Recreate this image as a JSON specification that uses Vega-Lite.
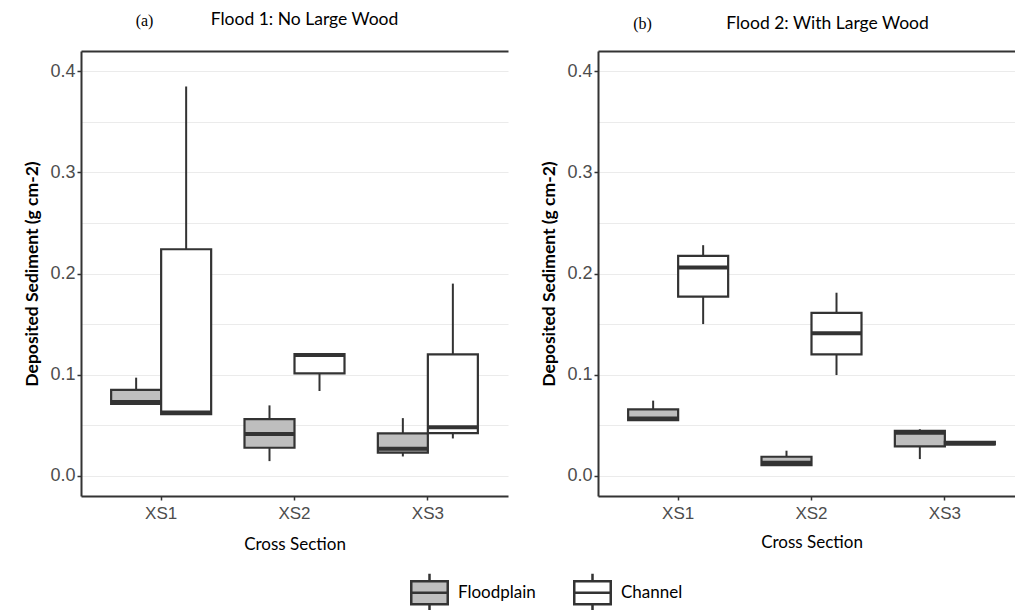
{
  "$schema": "https://vega.github.io/schema/vega-lite/v6.json",
  "background": "white",
  "padding": {"left": 23, "top": 10, "right": 0, "bottom": 5},
  "config": {
    "view": {"stroke": null}
  },
  "datasets": {
    "boxes": [
      {"flood": "Flood 1", "xs": "XS1", "loc": "Floodplain", "min": 0.071, "q1": 0.071, "median": 0.073, "q3": 0.085, "max": 0.097},
      {"flood": "Flood 1", "xs": "XS1", "loc": "Channel", "min": 0.061, "q1": 0.061, "median": 0.0625, "q3": 0.224, "max": 0.385},
      {"flood": "Flood 1", "xs": "XS2", "loc": "Floodplain", "min": 0.0145, "q1": 0.0277, "median": 0.0412, "q3": 0.056, "max": 0.0696},
      {"flood": "Flood 1", "xs": "XS2", "loc": "Channel", "min": 0.0838, "q1": 0.1013, "median": 0.1194, "q3": 0.1204, "max": 0.1204},
      {"flood": "Flood 1", "xs": "XS3", "loc": "Floodplain", "min": 0.0191, "q1": 0.0228, "median": 0.0268, "q3": 0.0419, "max": 0.057},
      {"flood": "Flood 1", "xs": "XS3", "loc": "Channel", "min": 0.0369, "q1": 0.0422, "median": 0.0481, "q3": 0.120, "max": 0.190},
      {"flood": "Flood 2", "xs": "XS1", "loc": "Floodplain", "min": 0.055, "q1": 0.055, "median": 0.0567, "q3": 0.0656, "max": 0.0743},
      {"flood": "Flood 2", "xs": "XS1", "loc": "Channel", "min": 0.150, "q1": 0.1772, "median": 0.206, "q3": 0.2175, "max": 0.228},
      {"flood": "Flood 2", "xs": "XS2", "loc": "Floodplain", "min": 0.0105, "q1": 0.0105, "median": 0.0129, "q3": 0.0188, "max": 0.0248},
      {"flood": "Flood 2", "xs": "XS2", "loc": "Channel", "min": 0.0996, "q1": 0.120, "median": 0.141, "q3": 0.161, "max": 0.181},
      {"flood": "Flood 2", "xs": "XS3", "loc": "Floodplain", "min": 0.0165, "q1": 0.029, "median": 0.0425, "q3": 0.0445, "max": 0.046},
      {"flood": "Flood 2", "xs": "XS3", "loc": "Channel", "min": 0.031, "q1": 0.031, "median": 0.032, "q3": 0.0335, "max": 0.034}
    ]
  },
  "resolve": {"scale": {"color": "shared"}, "legend": {"color": "shared"}},
  "spacing": 32,
  "hconcat": [
    {
      "width": 427,
      "height": 445,
      "data": {"name": "boxes"},
      "transform": [{"filter": "datum.flood == 'Flood 1'"}],
      "title": {"text": "Flood 1: No Large Wood", "font": "Lato", "fontSize": 17.5, "fontWeight": "normal", "color": "#000", "anchor": "middle", "dx": 10, "offset": -16},
      "layer": [
        {
          "mark": {"type": "rule", "color": "#333", "strokeWidth": 2},
          "encoding": {
            "x": {"field": "xs", "type": "nominal", "scale": {"paddingInner": 0.25, "paddingOuter": 0.226},
              "axis": {"orient": "bottom", "title": "Cross Section", "labelAngle": 0, "labelFont": "Liberation Sans", "labelFontSize": 17, "labelColor": "#4d4d4d", "titleFont": "Lato", "titleFontSize": 17, "titleFontWeight": "normal", "titleColor": "#000", "domainColor": "#333", "domainWidth": 2, "tickColor": "#333", "tickSize": 4, "tickWidth": 1.5, "labelPadding": 5, "titlePadding": 15, "grid": false}},
            "xOffset": {"field": "loc", "type": "nominal", "scale": {"domain": ["Floodplain", "Channel"], "paddingInner": 0, "paddingOuter": 0}},
            "y": {"field": "min", "type": "quantitative", "scale": {"domain": [-0.02, 0.42], "nice": false, "zero": false},
              "axis": {"values": [0, 0.1, 0.2, 0.3, 0.4], "format": ".1f", "title": "Deposited Sediment (g cm-2)", "grid": true, "gridColor": "#ebebeb", "gridWidth": 1.2, "domainColor": "#333", "domainWidth": 2, "tickColor": "#333", "tickSize": 4, "tickWidth": 1.5, "labelFont": "Liberation Sans", "labelFontSize": 18, "labelColor": "#4d4d4d", "labelPadding": 2, "titleFont": "Lato", "titleFontSize": 17.5, "titleFontWeight": "bold", "titleColor": "#000", "titlePadding": 8}},
            "y2": {"field": "max"}
          }
        },
        {
          "mark": {"type": "bar", "stroke": "#333", "strokeWidth": 2.2},
          "encoding": {
            "x": {"field": "xs", "type": "nominal",
              "axis": {"orient": "top", "labels": false, "ticks": false, "domain": true, "domainColor": "#333", "domainWidth": 2, "grid": false, "title": "(a)", "titleFont": "Liberation Serif", "titleFontSize": 16, "titleFontWeight": "normal", "titleColor": "#000", "titleX": 63, "titleY": -31, "titleAlign": "center", "titleBaseline": "middle", "titleAngle": 0}},
            "xOffset": {"field": "loc", "type": "nominal"},
            "y": {"field": "q1", "type": "quantitative",
              "axis": {"orient": "right", "values": [0.05, 0.15, 0.25, 0.35], "labels": false, "ticks": false, "domain": false, "title": null, "grid": true, "gridColor": "#ebebeb", "gridWidth": 1.2}},
            "y2": {"field": "q3"},
            "color": {"field": "loc", "type": "nominal", "scale": {"domain": ["Floodplain", "Channel"], "range": ["#bebebe", "#ffffff"]},
              "legend": {"orient": "none", "legendX": 328, "legendY": 521, "direction": "horizontal", "title": null, "symbolType": "M-0.96,-0.6H0.96V0.6H-0.96Z M-0.96,0H0.96 M0,-0.6V-1 M0,0.6V1", "symbolSize": 1444, "symbolStrokeColor": "#333", "symbolStrokeWidth": 2.5, "symbolOpacity": 1, "labelFont": "Lato", "labelFontSize": 17, "labelColor": "#000", "columnPadding": 33, "labelOffset": 8}}
          }
        },
        {
          "mark": {"type": "bar", "stroke": "#333", "strokeWidth": 4, "fill": "#333"},
          "encoding": {
            "x": {"field": "xs", "type": "nominal", "axis": null},
            "xOffset": {"field": "loc", "type": "nominal"},
            "y": {"field": "median", "type": "quantitative", "axis": null},
            "y2": {"field": "median"}
          }
        }
      ],
      "resolve": {"axis": {"x": "independent", "y": "independent"}}
    },
    {
      "width": 427,
      "height": 445,
      "data": {"name": "boxes"},
      "transform": [{"filter": "datum.flood == 'Flood 2'"}],
      "title": {"text": "Flood 2: With Large Wood", "font": "Lato", "fontSize": 17.5, "fontWeight": "normal", "color": "#000", "anchor": "middle", "dx": 16, "offset": -17},
      "layer": [
        {
          "mark": {"type": "rule", "color": "#333", "strokeWidth": 2},
          "encoding": {
            "x": {"field": "xs", "type": "nominal", "scale": {"paddingInner": 0.25, "paddingOuter": 0.226},
              "axis": {"orient": "bottom", "title": "Cross Section", "labelAngle": 0, "labelFont": "Liberation Sans", "labelFontSize": 17, "labelColor": "#4d4d4d", "titleFont": "Lato", "titleFontSize": 17, "titleFontWeight": "normal", "titleColor": "#000", "domainColor": "#333", "domainWidth": 2, "tickColor": "#333", "tickSize": 4, "tickWidth": 1.5, "labelPadding": 5, "titlePadding": 13, "grid": false}},
            "xOffset": {"field": "loc", "type": "nominal", "scale": {"domain": ["Floodplain", "Channel"], "paddingInner": 0, "paddingOuter": 0}},
            "y": {"field": "min", "type": "quantitative", "scale": {"domain": [-0.02, 0.42], "nice": false, "zero": false},
              "axis": {"values": [0, 0.1, 0.2, 0.3, 0.4], "format": ".1f", "title": "Deposited Sediment (g cm-2)", "grid": true, "gridColor": "#ebebeb", "gridWidth": 1.2, "domainColor": "#333", "domainWidth": 2, "tickColor": "#333", "tickSize": 4, "tickWidth": 1.5, "labelFont": "Liberation Sans", "labelFontSize": 18, "labelColor": "#4d4d4d", "labelPadding": 2, "titleFont": "Lato", "titleFontSize": 17.5, "titleFontWeight": "bold", "titleColor": "#000", "titlePadding": 8}},
            "y2": {"field": "max"}
          }
        },
        {
          "mark": {"type": "bar", "stroke": "#333", "strokeWidth": 2.2},
          "encoding": {
            "x": {"field": "xs", "type": "nominal",
              "axis": {"orient": "top", "labels": false, "ticks": false, "domain": true, "domainColor": "#333", "domainWidth": 2, "grid": false, "title": "(b)", "titleFont": "Liberation Serif", "titleFontSize": 16, "titleFontWeight": "normal", "titleColor": "#000", "titleX": 44, "titleY": -28, "titleAlign": "center", "titleBaseline": "middle", "titleAngle": 0}},
            "xOffset": {"field": "loc", "type": "nominal"},
            "y": {"field": "q1", "type": "quantitative",
              "axis": {"orient": "right", "values": [0.05, 0.15, 0.25, 0.35], "labels": false, "ticks": false, "domain": false, "title": null, "grid": true, "gridColor": "#ebebeb", "gridWidth": 1.2}},
            "y2": {"field": "q3"},
            "color": {"field": "loc", "type": "nominal", "scale": {"domain": ["Floodplain", "Channel"], "range": ["#bebebe", "#ffffff"]},
              "legend": {"orient": "none", "legendX": 328, "legendY": 521, "direction": "horizontal", "title": null, "symbolType": "M-0.96,-0.6H0.96V0.6H-0.96Z M-0.96,0H0.96 M0,-0.6V-1 M0,0.6V1", "symbolSize": 1444, "symbolStrokeColor": "#333", "symbolStrokeWidth": 2.5, "symbolOpacity": 1, "labelFont": "Lato", "labelFontSize": 17, "labelColor": "#000", "columnPadding": 33, "labelOffset": 8}}
          }
        },
        {
          "mark": {"type": "bar", "stroke": "#333", "strokeWidth": 4, "fill": "#333"},
          "encoding": {
            "x": {"field": "xs", "type": "nominal", "axis": null},
            "xOffset": {"field": "loc", "type": "nominal"},
            "y": {"field": "median", "type": "quantitative", "axis": null},
            "y2": {"field": "median"}
          }
        }
      ],
      "resolve": {"axis": {"x": "independent", "y": "independent"}}
    }
  ]
}
